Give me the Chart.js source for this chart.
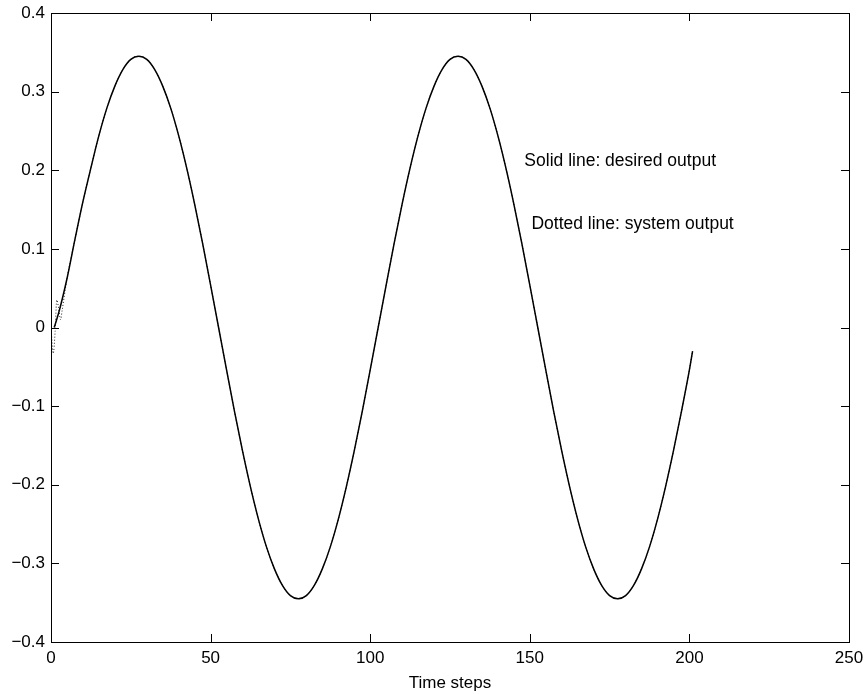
<!DOCTYPE html>
<html>
<head>
<meta charset="utf-8">
<script src="https://cdn.jsdelivr.net/npm/chart.js"></script>
<style>
  body { margin: 0; background: #fff; }
  #chart { display: block; }
</style>
</head>
<body>
<canvas id="chart" width="864" height="694"></canvas>
<script>
// desired output (solid line)
const desiredSteps = [1, 2.5, 5, 7.5, 10, 12.5, 15, 17.5, 20, 22.5, 25, 27.5, 30, 32.5, 35, 37.5, 40, 42.5, 45, 47.5,
    50, 52.5, 55, 57.5, 60, 62.5, 65, 67.5, 70, 72.5, 75, 77.5, 80, 82.5, 85, 87.5, 90, 92.5, 95, 97.5,
    100, 102.5, 105, 107.5, 110, 112.5, 115, 117.5, 120, 122.5, 125, 127.5, 130, 132.5, 135, 137.5, 140, 142.5, 145, 147.5,
    150, 152.5, 155, 157.5, 160, 162.5, 165, 167.5, 170, 172.5, 175, 177.5, 180, 182.5, 185, 187.5, 190, 192.5, 195, 197.5,
    200, 201];
const desiredOutput = [0, 0.02, 0.062, 0.112, 0.16, 0.203, 0.244, 0.279, 0.307, 0.328, 0.341, 0.345, 0.341, 0.328, 0.307, 0.279, 0.244, 0.203, 0.157, 0.107,
    0.054, 0, -0.054, -0.107, -0.157, -0.203, -0.244, -0.279, -0.307, -0.328, -0.341, -0.345, -0.341, -0.328, -0.307, -0.279, -0.244, -0.203, -0.157, -0.107,
    -0.054, 0, 0.054, 0.107, 0.157, 0.203, 0.244, 0.279, 0.307, 0.328, 0.341, 0.345, 0.341, 0.328, 0.307, 0.279, 0.244, 0.203, 0.157, 0.107,
    0.054, 0, -0.054, -0.107, -0.157, -0.203, -0.244, -0.279, -0.307, -0.328, -0.341, -0.345, -0.341, -0.328, -0.307, -0.279, -0.244, -0.203, -0.157, -0.107,
    -0.054, -0.03];

// system output (dotted line): noisy start, then it sits on the desired curve
const systemStartSteps = [0, 0.7, 1.3, 1.8, 2.3, 3, 3.5];
const systemStartOutput = [0, -0.033, -0.005, 0.035, 0.027, 0.01, 0.022];
const systemSteps = systemStartSteps.concat(desiredSteps.slice(2));
const systemOutput = systemStartOutput.concat(desiredOutput.slice(2));

const xTicks = [0, 50, 100, 150, 200, 250];
const yTicks = [-0.4, -0.3, -0.2, -0.1, 0, 0.1, 0.2, 0.3, 0.4];
const notes = [
    { text: "Solid line: desired output", x: 148.3, y: 0.211 },
    { text: "Dotted line: system output", x: 150.5, y: 0.131 }
];

const FONT = "'Liberation Sans', Arial, Helvetica, sans-serif";

function toPoints(xs, ys) {
    return xs.map((x, i) => ({ x: x, y: ys[i] }));
}

function fmt(v) {
    let r = Math.round(v * 10) / 10;
    if (r === 0) return "0";
    return (r < 0 ? "\u2212" : "") + Math.abs(r).toFixed(1);
}

// matlab style box with inward ticks on all four sides
const frameTicks = {
    id: "frameTicks",
    afterDraw(chart) {
        const { ctx, chartArea: a, scales: { x, y } } = chart;
        ctx.save();
        ctx.strokeStyle = "#000";
        ctx.lineWidth = 1;
        ctx.strokeRect(a.left + 0.5, a.top + 0.5, a.right - a.left, a.bottom - a.top);
        ctx.beginPath();
        xTicks.forEach(v => {
            let px = Math.round(x.getPixelForValue(v)) + 0.5;
            ctx.moveTo(px, a.bottom); ctx.lineTo(px, a.bottom - 8);
            ctx.moveTo(px, a.top); ctx.lineTo(px, a.top + 8);
        });
        yTicks.forEach(v => {
            let py = Math.round(y.getPixelForValue(v)) + 0.5;
            ctx.moveTo(a.left, py); ctx.lineTo(a.left + 8, py);
            ctx.moveTo(a.right, py); ctx.lineTo(a.right - 8, py);
        });
        ctx.stroke();
        ctx.restore();
    }
};

const noteText = {
    id: "noteText",
    afterDatasetsDraw(chart) {
        const { ctx, scales: { x, y } } = chart;
        ctx.save();
        ctx.fillStyle = "#000";
        ctx.font = "17.5px " + FONT;
        ctx.textAlign = "left";
        ctx.textBaseline = "middle";
        notes.forEach(n => ctx.fillText(n.text, x.getPixelForValue(n.x), y.getPixelForValue(n.y)));
        ctx.restore();
    }
};

new Chart(document.getElementById("chart").getContext("2d"), {
    type: "line",
    data: {
        datasets: [
            {
                label: "System output",
                data: toPoints(systemSteps, systemOutput),
                borderColor: "#222",
                borderWidth: 1,
                borderDash: [1, 2],
                pointRadius: 0,
                cubicInterpolationMode: "monotone",
                fill: false,
                order: 2
            },
            {
                label: "Desired output",
                data: toPoints(desiredSteps, desiredOutput),
                borderColor: "#000",
                borderWidth: 1.5,
                pointRadius: 0,
                cubicInterpolationMode: "monotone",
                fill: false,
                order: 1
            }
        ]
    },
    options: {
        responsive: false,
        animation: false,
        // plot box: left 51, right 849, top 13, bottom 642
        layout: { padding: { left: 0, right: 15, top: 13, bottom: 0 } },
        plugins: {
            legend: { display: false },
            tooltip: { enabled: false }
        },
        scales: {
            x: {
                type: "linear",
                min: 0,
                max: 250,
                afterBuildTicks: s => { s.ticks = xTicks.map(v => ({ value: v })); },
                afterFit: s => {
                    s.height = 52;
                    // no extra room for the end labels, the layout padding covers it
                    s.paddingLeft = 0;
                    s.paddingRight = 0;
                },
                grid: { display: false, drawTicks: false },
                border: { display: false },
                ticks: {
                    padding: 6,
                    color: "#000",
                    font: { family: FONT, size: 17 },
                    maxRotation: 0,
                    callback: v => String(v)
                },
                title: {
                    display: true,
                    text: "Time steps",
                    color: "#000",
                    font: { family: FONT, size: 17 },
                    padding: { top: 7, bottom: 0 }
                }
            },
            y: {
                type: "linear",
                min: -0.4,
                max: 0.4,
                afterBuildTicks: s => { s.ticks = yTicks.map(v => ({ value: v })); },
                afterFit: s => {
                    s.width = 51;
                    s.paddingTop = 0;
                    s.paddingBottom = 0;
                },
                grid: { display: false, drawTicks: false },
                border: { display: false },
                ticks: {
                    padding: 6,
                    color: "#000",
                    font: { family: FONT, size: 17 },
                    callback: v => fmt(v)
                }
            }
        }
    },
    plugins: [frameTicks, noteText]
});
</script>
</body>
</html>
